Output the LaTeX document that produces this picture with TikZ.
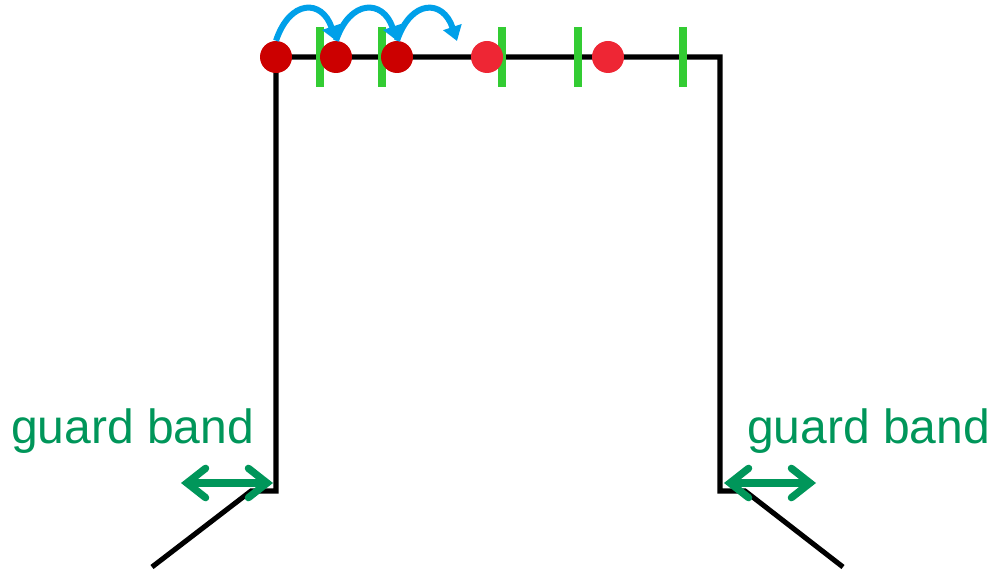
\documentclass[tikz,border=0pt]{standalone}
\usepackage{fontspec}
\setmainfont{Liberation Sans}
\usetikzlibrary{arrows.meta}
\definecolor{tick}{HTML}{33CC33}
\definecolor{dred}{HTML}{CC0000}
\definecolor{lred}{HTML}{EE2634}
\definecolor{hop}{HTML}{00A0E9}
\definecolor{gband}{HTML}{00965A}
\tikzset{
  wire/.style={line width=3.8pt, line join=miter},
  tickmark/.style={draw=tick, line width=5.5pt},
  dot/.style={circle, inner sep=0pt, minimum size=24pt},
  hopper/.style={draw=hop, line width=4.5pt, -{Triangle[length=11pt,width=14pt]}},
  bandarrow/.style={draw=gband, line width=5.5pt, line cap=round,
     {Straight Barb[length=14pt,width=22pt,line cap=round]}-{Straight Barb[length=14pt,width=22pt,line cap=round]}},
  label/.style={text=gband, font=\fontsize{36pt}{40pt}\selectfont, inner sep=0pt, anchor=base west}
}
\begin{document}
\begin{tikzpicture}[x=0.75pt,y=-0.75pt]
\useasboundingbox (0,0) rectangle (992,570);
% frame
\coordinate (lb) at (152,567);
\coordinate (lc) at (251,491);
\coordinate (lcorner) at (276,491);
\coordinate (tl) at (276,57);
\coordinate (tr) at (720,57);
\coordinate (rcorner) at (720,491);
\coordinate (rc) at (745,491);
\coordinate (rb) at (843,567);
\draw[wire] (lb) -- (lc) -- (lcorner) -- (tl) -- (tr) -- (rcorner) -- (rc) -- (rb);
% ticks
\foreach \x/\n in {320/t1,382/t2,502/t3,578/t4,683/t5}{
  \coordinate (\n a) at (\x,27);
  \coordinate (\n b) at (\x,87);
  \draw[tickmark] (\n a) -- (\n b);
}
% dots
\node[dot, fill=dred] (d1) at (276,57) {};
\node[dot, fill=dred] (d2) at (336,57) {};
\node[dot, fill=dred] (d3) at (397,57) {};
\node[dot, fill=lred] (d4) at (487,57) {};
\node[dot, fill=lred] (d5) at (608,57) {};
% hops
\coordinate (h4) at (457,41);
\draw[hopper] (d1.north) .. controls (290,-1) and (322,-1) .. (d2.north);
\draw[hopper] (d2.north) .. controls (350,-1) and (383,-1) .. (d3.north);
\draw[hopper] (d3.north) .. controls (411,-1) and (443,-1) .. (h4);
% guard band arrows
\coordinate (ga1) at (181,483);
\coordinate (ga2) at (273,483);
\coordinate (gb1) at (724,483);
\coordinate (gb2) at (816,483);
\draw[bandarrow] (ga1) -- (ga2);
\draw[bandarrow] (gb1) -- (gb2);
% labels
\node[label] (lt) at (11,443) {guard band};
\node[label] (rt) at (747,443) {guard band};
\end{tikzpicture}
\end{document}
